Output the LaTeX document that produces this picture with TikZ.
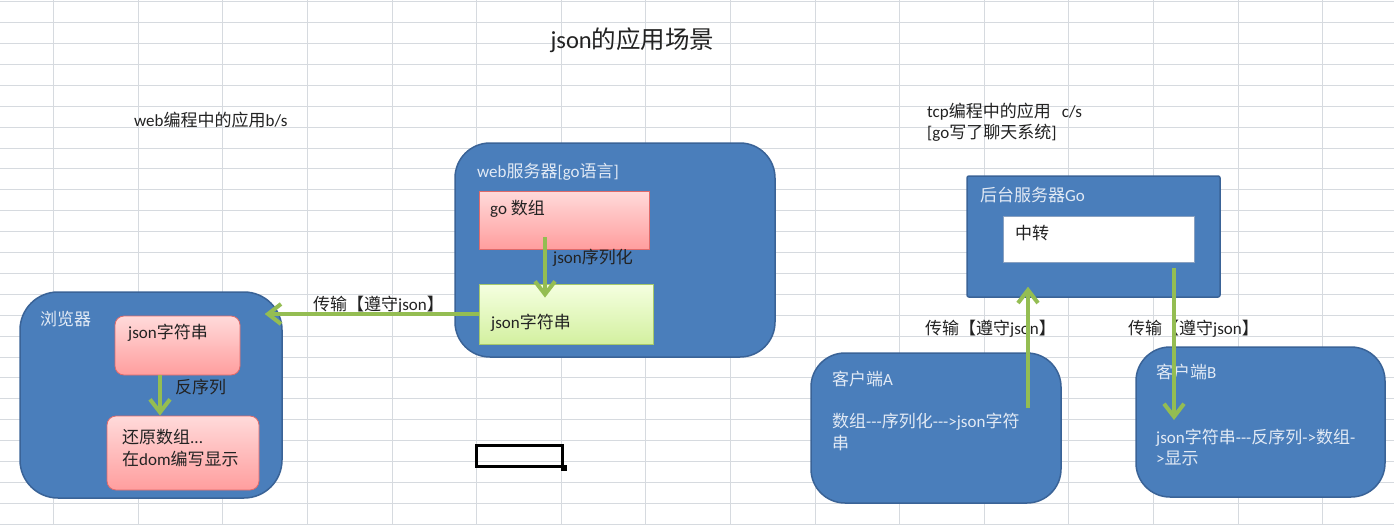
\documentclass[tikz,border=0pt]{standalone}
\usepackage{fontspec}
\setmainfont{Carlito}[Ligatures=TeXOff]
\newfontfamily\cjk{Noto Sans CJK SC}[Ligatures=TeXOff]
\usetikzlibrary{arrows.meta}
\definecolor{SheetGrid}{HTML}{D6DADF}
\definecolor{BoxBlue}{HTML}{4A7EBB}
\definecolor{BoxEdge}{HTML}{3A6397}
\definecolor{Pale}{HTML}{E2EAF5}
\definecolor{Ink}{HTML}{222222}
\definecolor{Leaf}{HTML}{94BD52}
\definecolor{RoseTop}{HTML}{FFDADA}
\definecolor{RoseBot}{HTML}{FF9E9E}
\definecolor{RoseEdge}{HTML}{E06A6A}
\definecolor{LimeTop}{HTML}{F5FFE0}
\definecolor{LimeBot}{HTML}{D3F0A0}
\definecolor{LimeEdge}{HTML}{A6C96A}
\newcommand{\zh}[1]{{\cjk #1}}

\begin{document}
\begin{tikzpicture}[x=1pt,y=-1pt,
  font=\fontsize{17}{21}\selectfont,
  every node/.style={inner sep=0pt},
  gridline/.style={draw=SheetGrid,line width=1pt},
  bluebox/.style={fill=BoxBlue,draw=BoxEdge,line width=1.5pt,rounded corners=35pt},
  rosebox/.style={top color=RoseTop,bottom color=RoseBot,draw=RoseEdge,line width=0.8pt},
  limebox/.style={top color=LimeTop,bottom color=LimeBot,draw=LimeEdge,line width=0.8pt},
  lab/.style={anchor=west,text=Ink},
  pale/.style={anchor=west,text=Pale},
  flow/.style={draw=Leaf,line width=4pt,-{Straight Barb[length=13pt,width=20pt]}}]
\useasboundingbox (0,0) rectangle (1394,525);
\fill[white] (0,0) rectangle (1394,525);
\foreach \k in {0,...,15}{\draw[gridline] ({53.6+84.6*\k},0) -- ++(0,525);}
\foreach \k in {0,...,25}{\draw[gridline] (0,{1.7+20.9*\k}) -- ++(1394,0);}
\node[text=Ink,font=\fontsize{24.5}{28}\selectfont] (title) at (632.5,40) {json\zh{的应用场景}};
\node[lab] (bstag) at (134,120) {web\zh{编程中的应用}b/s};
\node[lab] (cstag) at (927,112) {tcp\zh{编程中的应用}\hspace{11pt}c/s};
\node[lab] (cstag2) at (927,133) {[go\zh{写了聊天系统}]};
\node[bluebox,minimum width=320pt,minimum height=214pt] (web) at (615,250) {};
\node[pale] (webtxt) at (477,172) {web\zh{服务器}[go\zh{语言}]};
\node[rosebox,minimum width=170pt,minimum height=58pt] (garr) at (564,220) {};
\node[lab] (garrtxt) at (490,209) {go \zh{数组}};
\node[limebox,minimum width=174pt,minimum height=60pt] (gstr) at (566,314) {};
\node[lab] (gstrtxt) at (491,323) {json\zh{字符串}};
\node[lab] (sertxt) at (553,258) {json\zh{序列化}};
\node[bluebox,rounded corners=38pt,minimum width=262pt,minimum height=206pt] (browser) at (151,395) {};
\node[pale] (browsertxt) at (40,319) {\zh{浏览器}};
\node[rosebox,rounded corners=9pt,minimum width=125pt,minimum height=59pt] (bjson) at (177.5,345.5) {};
\node[lab] (bjsontxt) at (128,333) {json\zh{字符串}};
\node[rosebox,rounded corners=9pt,minimum width=152pt,minimum height=74pt] (brest) at (183,453) {};
\node[lab] (bresttxt) at (122,437) {\zh{还原数组}...};
\node[lab] (bresttxt2) at (122,459) {\zh{在}dom\zh{编写显示}};
\node[lab] (dsertxt) at (175,387) {\zh{反序列}};
\node[lab] (sendtxt) at (313,305) {\zh{传输【遵守}json\zh{】}};
\node[bluebox,rounded corners=2pt,minimum width=253pt,minimum height=121pt] (server) at (1093.5,236.5) {};
\node[pale] (servertxt) at (980,195) {\zh{后台服务器}Go};
\node[fill=white,draw=BoxEdge!60,line width=0.8pt,minimum width=191pt,minimum height=46pt] (relay) at (1098.5,239) {};
\node[lab] (relaytxt) at (1015,233) {\zh{中转}};
\node[bluebox,rounded corners=34pt,minimum width=250pt,minimum height=150pt] (clientA) at (936,428) {};
\node[pale] (clientAtxt) at (832,379) {\zh{客户端}A};
\node[pale] (clientAtxt2) at (832,422) {\zh{数组}---\zh{序列化}--->json\zh{字符}};
\node[pale] (clientAtxt3) at (832,443) {\zh{串}};
\node[bluebox,rounded corners=34pt,minimum width=249pt,minimum height=150pt] (clientB) at (1260.5,422) {};
\node[pale] (clientBtxt) at (1156,372) {\zh{客户端}B};
\node[pale] (clientBtxt2) at (1156,438) {json\zh{字符串}---\zh{反序列}->\zh{数组}-};
\node[pale] (clientBtxt3) at (1156,458) {>\zh{显示}};
\node[lab] (uptxt) at (925,329) {\zh{传输【遵守}json\zh{】}};
\node[lab] (downtxt) at (1128,329) {\zh{传输【遵守}json\zh{】}};
\node[draw=black,line width=3pt,minimum width=86pt,minimum height=21pt] (sel) at (519,455.5) {};
\node[fill=black,minimum size=6pt] (selhandle) at (sel.south east) {};
\coordinate (asend) at (1028,408);
\coordinate (brecv) at (1174,420);
\draw[flow,shorten <=-12pt,shorten >=-14pt] (garr.south -| 545,0) -- (gstr.north -| 545,0);
\draw[flow,shorten >=-18pt] (gstr.west) -- (gstr.west -| browser.east);
\draw[flow] (bjson.south -| 160,0) -- (brest.north -| 160,0);
\draw[flow,shorten >=-11pt] (asend) -- (asend |- server.south);
\draw[flow,shorten <=6pt] (brecv |- relay.south) -- (brecv);
\end{tikzpicture}
\end{document}
